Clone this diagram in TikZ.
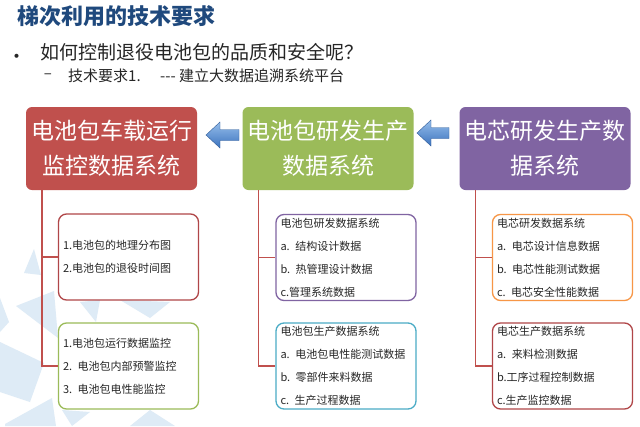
\documentclass[tikz,border=0pt]{standalone}
\usepackage{fontspec}
\setmainfont{Noto Sans CJK SC}
\usetikzlibrary{positioning}
\definecolor{titleblue}{RGB}{31,73,125}
\definecolor{txtdark}{RGB}{38,38,38}
\definecolor{boxred}{RGB}{192,80,77}
\definecolor{boxgreen}{RGB}{155,187,89}
\definecolor{boxpurple}{RGB}{128,100,162}
\definecolor{boxteal}{RGB}{75,172,198}
\definecolor{boxorange}{RGB}{247,150,70}
\definecolor{boxdred}{RGB}{176,70,72}
\definecolor{conncol}{RGB}{192,80,77}
\definecolor{bgtri}{RGB}{222,235,246}
\definecolor{arrlight}{RGB}{150,190,235}
\definecolor{arrdark}{RGB}{60,115,190}
\begin{document}
\begin{tikzpicture}[x=1pt,y=-1pt,
  topbox/.style={draw=none, fill=#1, rounded corners=6pt, minimum width=171pt, minimum height=83pt,
    inner sep=0pt, align=center, text=white, font=\fontsize{23}{35}\selectfont},
  subbox/.style={draw=#1, line width=1.3pt, fill=white, rounded corners=8pt, minimum width=140pt, minimum height=86pt,
    text width=131pt, inner xsep=4.5pt, inner ysep=0pt, align=left, text=txtdark, font=\fontsize{11}{23}\selectfont},
  conn/.style={draw=conncol, line width=1.4pt},
  blockarr/.style={draw=arrdark!80!black, line width=0.4pt, top color=arrlight, bottom color=arrdark},
  tri/.style={fill=bgtri, draw=none}]
\useasboundingbox (0,0) rectangle (640,426);
\fill[white] (0,0) rectangle (640,426);
% background triangles
\fill[tri] (34,249) -- (24,273) -- (41,275) -- cycle;
\fill[tri] (16,306) -- (54,291) -- (58,338) -- cycle;
\fill[tri] (0,298) -- (9,322) -- (0,332) -- cycle;
\fill[tri] (0,342) -- (44,363) -- (30,402) -- (0,392) -- cycle;
\fill[tri] (5,424) -- (52,398) -- (56,426) -- (5,426) -- cycle;
\fill[tri] (80,302) -- (100,300) -- (96,322) -- cycle;
\fill[tri] (120,300) -- (170,302) -- (150,318) -- cycle;
\fill[tri] (130,426) -- (150,410) -- (175,426) -- cycle;
\fill[tri] (62,410) -- (90,412) -- (72,426) -- cycle;
% title and bullets
\node[anchor=west, inner sep=0pt, text=titleblue, font=\fontsize{22}{24}\selectfont\bfseries] (title) at (17,16) {梯次利用的技术要求};
\node[anchor=center, inner sep=0pt, text=txtdark, font=\fontsize{19}{20}\selectfont] (dot) at (17,59) {•};
\node[anchor=west, inner sep=0pt, text=txtdark, font=\fontsize{19}{20}\selectfont] (q) at (40,52) {如何控制退役电池包的品质和安全呢？};
\node[anchor=center, inner sep=0pt, text=txtdark, font=\fontsize{15}{16}\selectfont] (dash) at (48,76) {–};
\node[anchor=west, inner sep=0pt, text=txtdark, font=\fontsize{15}{16}\selectfont] (req) at (68,76) {技术要求1.\hspace{1.3em}-{}-{}- 建立大数据追溯系统平台};
% top boxes
\node[topbox=boxred] (r) at (111.5,148.5) {电池包车载运行\\监控数据系统};
\node[topbox=boxgreen] (g) at (328,148.5) {电池包研发生产\\数据系统};
\node[topbox=boxpurple] (p) at (545,148.5) {电芯研发生产数\\据系统};
% block arrows
\draw[blockarr] (206,135) -- (220,122) -- (220,129.5) -- (239,129.5) -- (239,140.5) -- (220,140.5) -- (220,148) -- cycle;
\draw[blockarr] (417,133) -- (431,120) -- (431,127.5) -- (449,127.5) -- (449,138.5) -- (431,138.5) -- (431,146) -- cycle;
% sub boxes
\node[subbox=boxdred] (s1) at (128.5,257) {1.电池包的地理分布图\\2.电池包的退役时间图};
\node[subbox=boxgreen] (s2) at (128.5,366) {1.电池包运行数据监控\\2. 电池包内部预警监控\\3. 电池包电性能监控};
\node[subbox=boxpurple] (s3) at (346,257.5) {电池包研发数据系统\\a. 结构设计数据\\b. 热管理设计数据\\c.管理系统数据};
\node[subbox=boxteal] (s4) at (346,366) {电池包生产数据系统\\a. 电池包电性能测试数据\\b. 零部件来料数据\\c. 生产过程数据};
\node[subbox=boxorange] (s5) at (562.5,257.5) {电芯研发数据系统\\a. 电芯设计信息数据\\b. 电芯性能测试数据\\c. 电芯安全性能数据};
\node[subbox=boxdred] (s6) at (562.5,366) {电芯生产数据系统\\a. 来料检测数据\\b.工序过程控制数据\\c.生产监控数据};
% connectors
\coordinate (rt) at ([xshift=16pt]r.south west);
\coordinate (gt) at ([xshift=16pt]g.south west);
\coordinate (pt) at ([xshift=16pt]p.south west);
\draw[conn] (rt) |- (s1.west);
\draw[conn] (rt) |- (s2.west);
\draw[conn] (gt) |- (s3.west);
\draw[conn] (gt) |- (s4.west);
\draw[conn] (pt) |- (s5.west);
\draw[conn] (pt) |- (s6.west);
\end{tikzpicture}
\end{document}
